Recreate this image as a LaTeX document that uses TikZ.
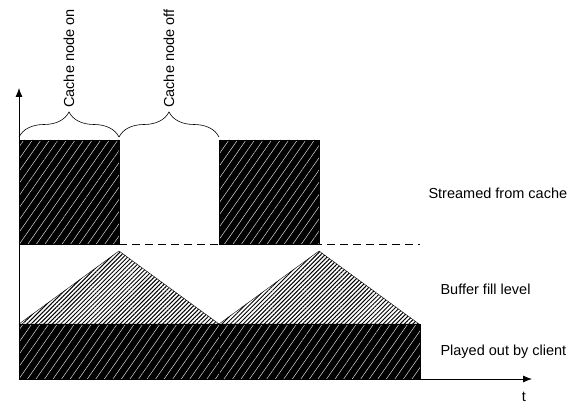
\documentclass[tikz,border=0pt]{standalone}
\usepackage{fontspec}
\setmainfont{Liberation Sans}
\usetikzlibrary{arrows.meta, patterns.meta, decorations.pathreplacing}

\begin{document}
\begin{tikzpicture}[
    x=1pt, y=-1pt,
    cached/.style={
        draw=black,
        preaction={fill=black},
        pattern={Lines[angle=55, distance=7pt, line width=0.5pt]},
        pattern color=white!70!gray
    },
    buffer/.style={
        draw=black,
        preaction={fill=white},
        pattern={Lines[angle=45, distance=3pt, line width=1pt]},
        pattern color=black
    },
    axis/.style={
        draw=black,
        line width=0.8pt,
        -{Latex[length=9pt, width=7pt]}
    },
    span/.style={
        decorate,
        decoration={brace, amplitude=25pt},
        line width=0.6pt
    },
    legend/.style={
        anchor=west,
        font=\fontsize{14.5}{17}\selectfont
    },
    phase/.style={
        rotate=90,
        anchor=west,
        inner sep=2pt,
        font=\fontsize{14.5}{17}\selectfont
    }
]
    \useasboundingbox (0,0) rectangle (574,406);

    \coordinate (origin) at (19,379);
    \coordinate (yend) at (19,88);
    \coordinate (xend) at (532,379);

    % streamed from cache
    \path[cached] (19,140) rectangle (119,244);
    \path[cached] (219,140) rectangle (319,244);
    \draw[line width=0.8pt, dash pattern=on 8pt off 5pt] (119,244) -- (420,244);

    % buffer fill level
    \path[buffer] (19,324) -- (119,251) -- (219,324) -- cycle;
    \path[buffer] (219,324) -- (319,251) -- (419,324) -- cycle;

    % played out by client
    \path[cached] (19,324) rectangle (219,379);
    \path[cached] (219,324) rectangle (420,379);

    % axes
    \draw[axis] (origin) -- (yend);
    \draw[axis] (origin) -- (xend);
    \node[anchor=base, inner sep=0pt, font=\fontsize{14.5}{17}\selectfont] (tlabel) at (524,402) {t};

    % phases
    \draw[span] (19,137) -- (119,137) coordinate[midway] (onmid);
    \draw[span] (119,137) -- (219,137) coordinate[midway] (offmid);
    \node[phase] (onlabel) at (69,110) {Cache node on};
    \node[phase] (offlabel) at (169,110) {Cache node off};

    \node[legend] (streamed) at (425,193) {Streamed from cache};
    \node[legend] (fill) at (437,289) {Buffer fill level};
    \node[legend] (played) at (437,352) {Played out by client};
\end{tikzpicture}
\end{document}
